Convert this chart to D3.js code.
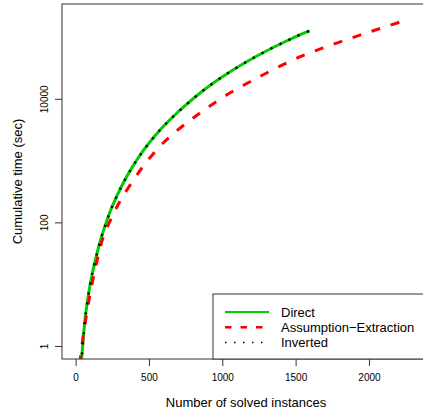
<!DOCTYPE html>
<html>
<head>
<meta charset="utf-8">
<script src="https://cdn.jsdelivr.net/npm/d3@7"></script>
<style>
  html, body { margin: 0; padding: 0; background: #fff; overflow: hidden; }
  text { font-family: "Liberation Sans", Arial, Helvetica, sans-serif; fill: #000; }
</style>
</head>
<body>
<svg id="chart" width="423" height="414"></svg>
<script>
// Cumulative solving time per approach (instances solved vs. seconds)
const directX = [32, 41, 63, 86, 109, 132, 166, 200, 245, 314, 382, 461, 541, 609, 700, 813, 922, 1040, 1166, 1297, 1427, 1552, 1597];
const directY = [0.35, 0.63, 2.55, 6.5, 13.2, 23.2, 48, 87, 171, 388, 755, 1445, 2520, 3800, 6170, 10600, 16900, 26200, 39800, 58900, 83800, 114500, 126000];

const assumpX = [28, 34, 52, 75, 97, 120, 154, 188, 256, 314, 404, 484, 586, 689, 802, 904, 1018, 1154, 1279, 1404, 1541, 1677, 1814, 1950, 2086, 2223, 2249];
const assumpY = [0.51, 0.68, 1.48, 3.31, 6.6, 12.6, 28.8, 57.5, 135, 245, 525, 955, 1820, 3020, 4900, 7330, 11100, 17000, 24500, 34700, 49000, 65300, 85100, 109600, 139600, 177800, 185000];

const invertedX = [32, 41, 63, 86, 109, 132, 166, 200, 245, 314, 382, 461, 541, 609, 700, 813, 922, 1040, 1166, 1297, 1427, 1552, 1597];
const invertedY = [0.35, 0.63, 2.55, 6.5, 13.2, 23.2, 48, 87, 171, 388, 755, 1445, 2520, 3800, 6170, 10600, 16900, 26200, 39800, 58900, 83800, 114500, 126000];

const xTicks = [0, 500, 1000, 1500, 2000];
const yTicks = [1, 100, 10000];
const seriesNames = ["Direct", "Assumption\u2212Extraction", "Inverted"];

const svg = d3.select("#chart");
const plot = { left: 62, top: 4, right: 432, bottom: 359 };

const x = d3.scaleLinear().domain([-93, 2430]).range([plot.left, plot.right]);
const y = d3.scaleLog().domain([0.616, 342000]).range([plot.bottom, plot.top]);

svg.append("defs").append("clipPath").attr("id", "plotClip")
  .append("rect")
  .attr("x", plot.left).attr("y", plot.top)
  .attr("width", plot.right - plot.left).attr("height", plot.bottom - plot.top);

const line = d3.line().x(d => x(d[0])).y(d => y(d[1])).curve(d3.curveCatmullRom.alpha(0.5));
const zip = (a, b) => a.map((v, i) => [v, b[i]]);

const curves = svg.append("g").attr("clip-path", "url(#plotClip)");
curves.append("path")
  .attr("d", line(zip(directX, directY)))
  .attr("fill", "none").attr("stroke", "#00cd00").attr("stroke-width", 3);
curves.append("path")
  .attr("d", line(zip(assumpX, assumpY)))
  .attr("fill", "none").attr("stroke", "#ff0000").attr("stroke-width", 3)
  .attr("stroke-dasharray", "9,11");
curves.append("path")
  .attr("d", line(zip(invertedX, invertedY)))
  .attr("fill", "none").attr("stroke", "#000").attr("stroke-width", 2.4)
  .attr("stroke-dasharray", "2,8");

// X axis
const xAxis = svg.append("g").attr("transform", `translate(0,${plot.bottom})`)
  .call(d3.axisBottom(x).tickValues(xTicks).tickSize(7).tickPadding(8).tickFormat(d3.format("d")));
xAxis.select(".domain").remove();
xAxis.selectAll("line").attr("stroke", "#333");
xAxis.selectAll("text").attr("font-size", 10).style("font-family", "'Liberation Sans', Arial, sans-serif");

// Y axis with labels parallel to the axis
const yAxis = svg.append("g").attr("transform", `translate(${plot.left},0)`)
  .call(d3.axisLeft(y).tickValues(yTicks).tickSize(7).tickFormat(d3.format("d")));
yAxis.select(".domain").remove();
yAxis.selectAll("line").attr("stroke", "#333");
yAxis.selectAll("text")
  .attr("x", null).attr("dy", null)
  .attr("text-anchor", "middle")
  .attr("font-size", 10)
  .style("font-family", "'Liberation Sans', Arial, sans-serif")
  .attr("transform", "translate(-14.5,0) rotate(-90)");

// Plot frame
svg.append("rect")
  .attr("x", plot.left).attr("y", plot.top)
  .attr("width", plot.right - plot.left).attr("height", plot.bottom - plot.top)
  .attr("fill", "none").attr("stroke", "#333").attr("stroke-width", 1);

// Axis titles
svg.append("text").attr("x", 246).attr("y", 407)
  .attr("text-anchor", "middle").attr("font-size", 13)
  .text("Number of solved instances");
svg.append("text")
  .attr("transform", `translate(22,${(plot.top + plot.bottom) / 2}) rotate(-90)`)
  .attr("text-anchor", "middle").attr("font-size", 13)
  .text("Cumulative time (sec)");

// Legend
const legend = svg.append("g");
legend.append("rect")
  .attr("x", 213).attr("y", 294).attr("width", 240).attr("height", plot.bottom - 294)
  .attr("fill", "#fff").attr("stroke", "#333").attr("stroke-width", 1);
const legendStyles = [
  { color: "#00cd00", width: 2, dash: null },
  { color: "#ff0000", width: 2.5, dash: "6.5,9" },
  { color: "#000", width: 1.5, dash: "1.5,7.5" }
];
seriesNames.forEach((name, i) => {
  const ly = 312 + i * 15.3;
  const s = legendStyles[i];
  legend.append("line")
    .attr("x1", 225).attr("x2", 269).attr("y1", ly).attr("y2", ly)
    .attr("stroke", s.color).attr("stroke-width", s.width)
    .attr("stroke-dasharray", s.dash);
  legend.append("text").attr("x", 281).attr("y", ly + 4.5)
    .attr("font-size", 13).text(name);
});
</script>
</body>
</html>
